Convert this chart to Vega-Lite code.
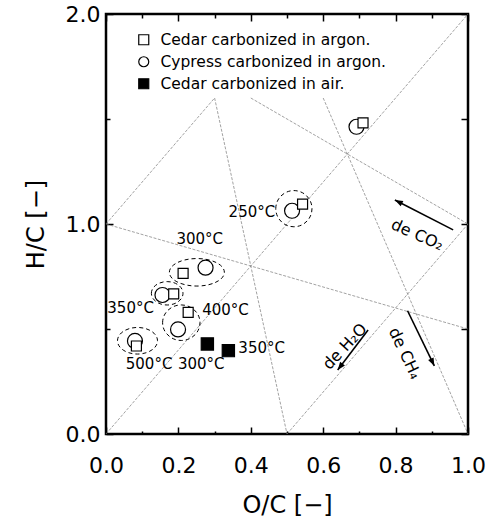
{
  "$schema": "https://vega.github.io/schema/vega-lite/v6.json",
  "width": 362,
  "height": 420,
  "padding": {"left": 24, "top": 3, "right": 5, "bottom": 2},
  "config": {
    "font": "DejaVu Sans",
    "view": {"stroke": "black", "strokeWidth": 2.5},
    "axis": {"grid": false, "domain": false, "labelColor": "black", "titleColor": "black", "tickColor": "black", "tickWidth": 1.5, "labelFlush": false, "labelOverlap": false, "titleFontWeight": "normal"},
    "legend": {"labelLimit": 400}
  },
  "datasets": {
    "guides": [
      {"x": 0, "y": 0, "x2": 1, "y2": 2},
      {"x": 0, "y": 1, "x2": 0.3, "y2": 1.6},
      {"x": 0.3, "y": 1.6, "x2": 0.5, "y2": 0},
      {"x": 0, "y": 1, "x2": 1, "y2": 0.5},
      {"x": 0.5, "y": 0, "x2": 1, "y2": 1},
      {"x": 0.4, "y": 1.6, "x2": 1, "y2": 1},
      {"x": 0.6, "y": 1.6, "x2": 1, "y2": 0}
    ],
    "rings": [
      {"ring": "250", "x": 0.519, "y": 1.073},
      {"ring": "300", "x": 0.251, "y": 0.770},
      {"ring": "350", "x": 0.169, "y": 0.670},
      {"ring": "400", "x": 0.208, "y": 0.530},
      {"ring": "500", "x": 0.087, "y": 0.444}
    ],
    "samples": [
      {"series": "Cypress carbonized in argon.", "temp": 200, "x": 0.692, "y": 1.463},
      {"series": "Cypress carbonized in argon.", "temp": 250, "x": 0.514, "y": 1.063},
      {"series": "Cypress carbonized in argon.", "temp": 300, "x": 0.275, "y": 0.792},
      {"series": "Cypress carbonized in argon.", "temp": 350, "x": 0.156, "y": 0.662},
      {"series": "Cypress carbonized in argon.", "temp": 400, "x": 0.199, "y": 0.498},
      {"series": "Cypress carbonized in argon.", "temp": 500, "x": 0.080, "y": 0.443},
      {"series": "Cedar carbonized in argon.", "temp": 200, "x": 0.710, "y": 1.482},
      {"series": "Cedar carbonized in argon.", "temp": 250, "x": 0.543, "y": 1.095},
      {"series": "Cedar carbonized in argon.", "temp": 300, "x": 0.213, "y": 0.765},
      {"series": "Cedar carbonized in argon.", "temp": 350, "x": 0.187, "y": 0.667},
      {"series": "Cedar carbonized in argon.", "temp": 400, "x": 0.227, "y": 0.579},
      {"series": "Cedar carbonized in argon.", "temp": 500, "x": 0.084, "y": 0.419},
      {"series": "Cedar carbonized in air.", "temp": 300, "x": 0.280, "y": 0.429},
      {"series": "Cedar carbonized in air.", "temp": 350, "x": 0.338, "y": 0.397}
    ],
    "temps": [
      {"label": "250°C", "x": 0.403, "y": 1.056},
      {"label": "300°C", "x": 0.259, "y": 0.927},
      {"label": "350°C", "x": 0.068, "y": 0.599},
      {"label": "400°C", "x": 0.330, "y": 0.590},
      {"label": "500°C", "x": 0.119, "y": 0.333},
      {"label": "300°C", "x": 0.263, "y": 0.333},
      {"label": "350°C", "x": 0.430, "y": 0.408}
    ],
    "arrows": [
      {"process": "CO2", "x": 0.959, "y": 0.972, "x2": 0.798, "y2": 1.114},
      {"process": "H2O", "x": 0.724, "y": 0.495, "x2": 0.640, "y2": 0.305},
      {"process": "CH4", "x": 0.833, "y": 0.587, "x2": 0.907, "y2": 0.324}
    ],
    "notes": [
      {"process": "CO2", "label": "de CO₂", "x": 0.860, "y": 0.948},
      {"process": "H2O", "label": "de H₂O", "x": 0.660, "y": 0.416},
      {"process": "CH4", "label": "de CH₄", "x": 0.825, "y": 0.384}
    ]
  },
  "resolve": {
    "axis": {"x": "independent", "y": "independent"}
  },
  "layer": [
    {
      "data": {"name": "guides"},
      "mark": {"type": "rule", "color": "#7a7a7a", "strokeWidth": 0.7, "strokeDash": [3, 1.5]},
      "encoding": {
        "x": {"field": "x", "type": "quantitative", "scale": {"domain": [0, 1], "nice": false},
          "axis": {"orient": "top", "values": [0, 0.1, 0.2, 0.3, 0.4, 0.5, 0.6, 0.7, 0.8, 0.9, 1], "labels": false, "title": null,
            "tickSize": {"condition": {"test": "round(datum.value*10)%2==0", "value": -7}, "value": -4}}},
        "y": {"field": "y", "type": "quantitative", "scale": {"domain": [0, 2], "nice": false},
          "axis": {"orient": "right", "values": [0, 0.5, 1, 1.5, 2], "labels": false, "title": null, "tickSize": -7}},
        "x2": {"field": "x2"},
        "y2": {"field": "y2"}
      }
    },
    {
      "data": {"name": "rings"},
      "transform": [{"filter": "datum.ring == '250'"}],
      "mark": {"type": "point", "filled": false, "stroke": "black", "strokeWidth": 1, "strokeDash": [4, 3], "opacity": 1, "size": 1310, "shape": "M-1,0A1,1,0,1,1,1,0A1,1,0,1,1,-1,0Z"},
      "encoding": {"x": {"field": "x", "type": "quantitative", "axis": null}, "y": {"field": "y", "type": "quantitative", "axis": null}}
    },
    {
      "data": {"name": "rings"},
      "transform": [{"filter": "datum.ring == '300'"}],
      "mark": {"type": "point", "filled": false, "stroke": "black", "strokeWidth": 1, "strokeDash": [4, 3], "opacity": 1, "size": 3025, "shape": "M-1,0A1,0.5,0,1,1,1,0A1,0.5,0,1,1,-1,0Z"},
      "encoding": {"x": {"field": "x", "type": "quantitative", "axis": null}, "y": {"field": "y", "type": "quantitative", "axis": null}}
    },
    {
      "data": {"name": "rings"},
      "transform": [{"filter": "datum.ring == '350'"}],
      "mark": {"type": "point", "filled": false, "stroke": "black", "strokeWidth": 1, "strokeDash": [4, 3], "opacity": 1, "size": 999, "shape": "M-1,0A1,0.74,0,1,1,1,0A1,0.74,0,1,1,-1,0Z"},
      "encoding": {"x": {"field": "x", "type": "quantitative", "axis": null}, "y": {"field": "y", "type": "quantitative", "axis": null}}
    },
    {
      "data": {"name": "rings"},
      "transform": [{"filter": "datum.ring == '400'"}],
      "mark": {"type": "point", "filled": false, "stroke": "black", "strokeWidth": 1, "strokeDash": [4, 3], "opacity": 1, "size": 1399, "shape": "M-1,0A1,0.95,0,1,1,1,0A1,0.95,0,1,1,-1,0Z"},
      "encoding": {"x": {"field": "x", "type": "quantitative", "axis": null}, "y": {"field": "y", "type": "quantitative", "axis": null}}
    },
    {
      "data": {"name": "rings"},
      "transform": [{"filter": "datum.ring == '500'"}],
      "mark": {"type": "point", "filled": false, "stroke": "black", "strokeWidth": 1, "strokeDash": [4, 3], "opacity": 1, "size": 1600, "shape": "M-1,0A1,0.665,0,1,1,1,0A1,0.665,0,1,1,-1,0Z"},
      "encoding": {"x": {"field": "x", "type": "quantitative", "axis": null}, "y": {"field": "y", "type": "quantitative", "axis": null}}
    },
    {
      "data": {"name": "arrows"},
      "mark": {"type": "rule", "color": "black", "strokeWidth": 1.6},
      "encoding": {
        "x": {"field": "x", "type": "quantitative", "axis": null},
        "y": {"field": "y", "type": "quantitative", "axis": null},
        "x2": {"field": "x2"},
        "y2": {"field": "y2"}
      }
    },
    {
      "data": {"name": "arrows"},
      "transform": [{"filter": "datum.process == 'CO2'"}],
      "mark": {"type": "point", "filled": true, "color": "black", "opacity": 1, "size": 256, "shape": "M0,0L-0.38,1L0.38,1Z", "angle": 296.7},
      "encoding": {"x": {"field": "x2", "type": "quantitative", "axis": null}, "y": {"field": "y2", "type": "quantitative", "axis": null}}
    },
    {
      "data": {"name": "arrows"},
      "transform": [{"filter": "datum.process == 'H2O'"}],
      "mark": {"type": "point", "filled": true, "color": "black", "opacity": 1, "size": 256, "shape": "M0,0L-0.38,1L0.38,1Z", "angle": 217.5},
      "encoding": {"x": {"field": "x2", "type": "quantitative", "axis": null}, "y": {"field": "y2", "type": "quantitative", "axis": null}}
    },
    {
      "data": {"name": "arrows"},
      "transform": [{"filter": "datum.process == 'CH4'"}],
      "mark": {"type": "point", "filled": true, "color": "black", "opacity": 1, "size": 256, "shape": "M0,0L-0.38,1L0.38,1Z", "angle": 154.2},
      "encoding": {"x": {"field": "x2", "type": "quantitative", "axis": null}, "y": {"field": "y2", "type": "quantitative", "axis": null}}
    },
    {
      "data": {"name": "notes"},
      "transform": [{"filter": "datum.process == 'CO2'"}],
      "mark": {"type": "text", "fontSize": 16, "color": "black", "angle": 24, "align": "center", "baseline": "middle"},
      "encoding": {"x": {"field": "x", "type": "quantitative", "axis": null}, "y": {"field": "y", "type": "quantitative", "axis": null}, "text": {"field": "label"}}
    },
    {
      "data": {"name": "notes"},
      "transform": [{"filter": "datum.process == 'H2O'"}],
      "mark": {"type": "text", "fontSize": 16, "color": "black", "angle": -47, "align": "center", "baseline": "middle"},
      "encoding": {"x": {"field": "x", "type": "quantitative", "axis": null}, "y": {"field": "y", "type": "quantitative", "axis": null}, "text": {"field": "label"}}
    },
    {
      "data": {"name": "notes"},
      "transform": [{"filter": "datum.process == 'CH4'"}],
      "mark": {"type": "text", "fontSize": 16, "color": "black", "angle": 65, "align": "center", "baseline": "middle"},
      "encoding": {"x": {"field": "x", "type": "quantitative", "axis": null}, "y": {"field": "y", "type": "quantitative", "axis": null}, "text": {"field": "label"}}
    },
    {
      "data": {"name": "temps"},
      "mark": {"type": "text", "fontSize": 15, "color": "black", "align": "center", "baseline": "middle"},
      "encoding": {"x": {"field": "x", "type": "quantitative", "axis": null}, "y": {"field": "y", "type": "quantitative", "axis": null}, "text": {"field": "label"}}
    },
    {
      "data": {"name": "samples"},
      "transform": [{"filter": "datum.series == 'Cypress carbonized in argon.'"}],
      "mark": {"type": "point", "filled": true, "stroke": "black", "strokeWidth": 1.2, "opacity": 1, "size": 225},
      "encoding": {
        "x": {"field": "x", "type": "quantitative", "axis": null},
        "y": {"field": "y", "type": "quantitative", "axis": null},
        "shape": {"field": "series", "type": "nominal"},
        "fill": {"field": "series", "type": "nominal"}
      }
    },
    {
      "data": {"name": "samples"},
      "transform": [{"filter": "datum.series == 'Cedar carbonized in air.'"}],
      "mark": {"type": "point", "filled": true, "stroke": "black", "strokeWidth": 1.2, "opacity": 1, "size": 150},
      "encoding": {
        "x": {"field": "x", "type": "quantitative", "axis": null},
        "y": {"field": "y", "type": "quantitative", "axis": null},
        "shape": {"field": "series", "type": "nominal"},
        "fill": {"field": "series", "type": "nominal"}
      }
    },
    {
      "data": {"name": "samples"},
      "transform": [{"filter": "datum.series == 'Cedar carbonized in argon.'"}],
      "mark": {"type": "point", "filled": true, "stroke": "black", "strokeWidth": 1.2, "opacity": 1, "size": 100},
      "encoding": {
        "x": {"field": "x", "type": "quantitative", "scale": {"domain": [0, 1], "nice": false},
          "axis": {"orient": "bottom", "values": [0, 0.1, 0.2, 0.3, 0.4, 0.5, 0.6, 0.7, 0.8, 0.9, 1],
            "labelExpr": "round(datum.value*10)%2==0 ? format(datum.value, '.1f') : ''",
            "tickSize": {"condition": {"test": "round(datum.value*10)%2==0", "value": -7}, "value": -3},
            "labelPadding": 28, "labelFontSize": 22, "title": "O/C [−]", "titleFontSize": 24, "titlePadding": 13}},
        "y": {"field": "y", "type": "quantitative", "scale": {"domain": [0, 2], "nice": false},
          "axis": {"orient": "left", "values": [0, 0.5, 1, 1.5, 2],
            "labelExpr": "datum.value % 1 == 0 ? format(datum.value, '.1f') : ''",
            "tickSize": {"condition": {"test": "datum.value % 1 == 0", "value": -7}, "value": -4},
            "labelPadding": 13, "labelFontSize": 22, "title": "H/C [−]", "titleFontSize": 24, "titlePadding": 17}},
        "shape": {"field": "series", "type": "nominal",
          "scale": {"domain": ["Cedar carbonized in argon.", "Cypress carbonized in argon.", "Cedar carbonized in air."], "range": ["square", "circle", "square"]},
          "legend": {"orient": "none", "legendX": 30, "legendY": 18, "title": null, "labelFontSize": 15.5, "labelColor": "black", "symbolSize": 100, "symbolStrokeColor": "black", "symbolStrokeWidth": 1.2, "rowPadding": 5, "labelOffset": 9, "padding": 0}},
        "fill": {"field": "series", "type": "nominal",
          "scale": {"domain": ["Cedar carbonized in argon.", "Cypress carbonized in argon.", "Cedar carbonized in air."], "range": ["white", "white", "black"]},
          "legend": {"orient": "none", "legendX": 30, "legendY": 18, "title": null, "labelFontSize": 15.5, "labelColor": "black", "symbolSize": 100, "symbolStrokeColor": "black", "symbolStrokeWidth": 1.2, "rowPadding": 5, "labelOffset": 9, "padding": 0}}
      }
    }
  ]
}
